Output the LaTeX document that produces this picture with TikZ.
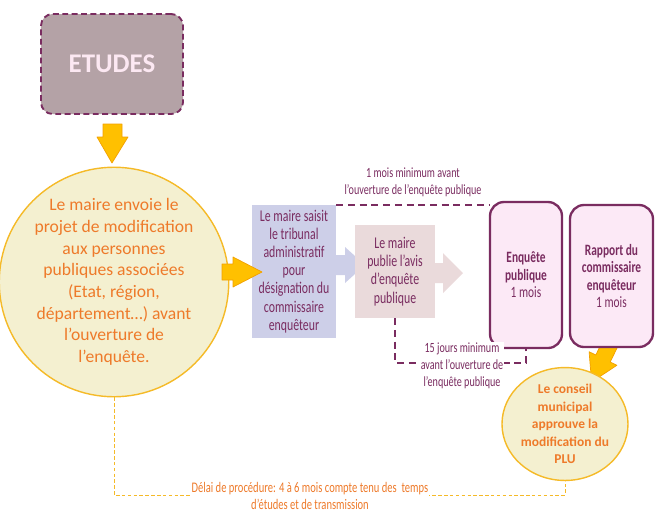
\documentclass[tikz,border=0pt]{standalone}
\usepackage{fontspec}
\setmainfont{Carlito}
\newfontfamily\condfont[FakeStretch=0.72]{Carlito}
\usetikzlibrary{positioning}
\usetikzlibrary{shapes.geometric}

\definecolor{plum}{RGB}{122,44,96}
\definecolor{etudeGray}{RGB}{180,162,166}
\definecolor{etudeText}{RGB}{252,232,242}
\definecolor{lavender}{RGB}{205,207,232}
\definecolor{rosewood}{RGB}{234,218,219}
\definecolor{blush}{RGB}{252,233,246}
\definecolor{cream}{RGB}{244,240,208}
\definecolor{gold}{RGB}{245,186,40}
\definecolor{tangerine}{RGB}{238,122,42}
\definecolor{arrowFill}{RGB}{255,192,0}
\definecolor{arrowLine}{RGB}{242,160,0}

\tikzset
  {
    etudeBox/.style={draw=plum, fill=etudeGray, line width=1.6pt, dash pattern=on 5pt off 3pt,
      rounded corners=10pt, minimum width=4.26cm, minimum height=3.0cm, inner sep=0pt,
      text=etudeText, font=\fontsize{23}{26}\selectfont\bfseries},
    bigCircle/.style={circle, draw=gold, fill=cream, line width=1.2pt, inner sep=0pt, align=center,
      text=tangerine},
    flatBox/.style={rectangle, inner sep=0pt, align=center, text=plum,
      font=\condfont\fontsize{14}{15.5}\selectfont},
    roundBox/.style={rectangle, draw=plum, fill=blush, line width=2pt, rounded corners=12pt,
      inner sep=0pt, align=center, text=plum, font=\condfont\fontsize{13.5}{15}\selectfont},
    blockArrow/.style={fill=arrowFill, draw=arrowLine, line width=0.6pt, line join=round},
    delayLine/.style={draw=plum, line width=1.6pt, dash pattern=on 6pt off 4pt},
    totalLine/.style={draw=gold, line width=0.7pt, dash pattern=on 3pt off 2pt},
    smallNote/.style={align=center, inner sep=1pt, font=\condfont\fontsize{12}{14.5}\selectfont}
  }

\begin{document}
\begin{tikzpicture}[x=0.03cm, y=-0.03cm]

\useasboundingbox (0,0) rectangle (659,519);

% boxes
\node[etudeBox] (etudes) at (112,64) {ETUDES};

\node[bigCircle, minimum size=6.84cm, font=\fontsize{15}{18.5}\selectfont] (envoi) at (114,282)
{Le maire envoie le\\ projet de modification\\ aux personnes\\
 publiques associées\\ (Etat, région,\\ département…) avant\\ l’ouverture de\\ l’enquête.};

\node[flatBox, fill=lavender, minimum width=2.52cm, minimum height=3.99cm] (tribunal) at (294,271.5)
{Le maire saisit\\ le tribunal\\ administratif\\ pour\\ désignation du\\ commissaire\\ enquêteur};

% arrows
\draw[blockArrow] (103,124)--(122,124)--(122,137)--(128,137)--(112,163)--(97,137)--(103,137)--cycle;

\draw[blockArrow] (222,264)--(233,264)--(233,257)--(262,272)--(233,287)--(233,280)--(222,280)--cycle;

\fill[lavender] (336,255)--(345,255)--(345,247)--(365,265)--(345,283)--(345,275)--(336,275)--cycle;

\fill[rosewood] (435,263)--(443,263)--(443,253)--(463,273)--(443,293)--(443,283)--(435,283)--cycle;

\draw[blockArrow] (604.6,337)--(619,344)--(610.2,362)--(616.9,365.3)--(591.6,382)--(589.1,351.7)
  --(595.8,355)--cycle;

\node[flatBox, fill=rosewood, minimum width=2.4cm, minimum height=2.79cm] (avis) at (395,271.5)
{Le maire\\ publie l’avis\\ d’enquête\\ publique};

\node[roundBox, minimum width=2.16cm, minimum height=4.38cm] (enquete) at (526,275)
{\textbf{Enquête}\\ \textbf{publique}\\ 1 mois};

\node[roundBox, minimum width=2.49cm, minimum height=4.26cm] (rapport) at (611.5,276)
{\textbf{Rapport du}\\ \textbf{commissaire}\\ \textbf{enquêteur}\\ 1 mois};

\node[ellipse, draw=gold, fill=cream, line width=1.2pt, inner sep=0pt, minimum width=3.78cm,
  minimum height=3.09cm, align=center, text=tangerine,
  font=\fontsize{11.5}{15}\selectfont\bfseries] (conseil) at (565,424)
{Le conseil\\ municipal\\ approuve la\\ modification du\\ PLU};

% delays
\draw[delayLine] (tribunal.north east) -- (tribunal.north east -| enquete.west);

\node[smallNote, text=plum] (mois) at (413,182)
{1 mois minimum avant\\ l’ouverture de l’enquête publique};

\coordinate (quinze) at (460,363);
\draw[delayLine] (avis.south) |- (quinze) -| (enquete.south);

\node[smallNote, fill=white, text=plum] (jours) at (462,366)
{15 jours minimum\\ avant l’ouverture de\\ l’enquête publique};

\coordinate (delai) at (310,495);
\draw[totalLine] (envoi.south) |- (delai) -| (conseil.south);

\node[smallNote, fill=white, text=tangerine, font=\condfont\fontsize{12.5}{14.5}\selectfont]
  (procedure) at (310,496)
{Délai de procédure: 4 à 6 mois compte tenu des \ temps\\ d’études et de transmission};

\end{tikzpicture}
\end{document}
